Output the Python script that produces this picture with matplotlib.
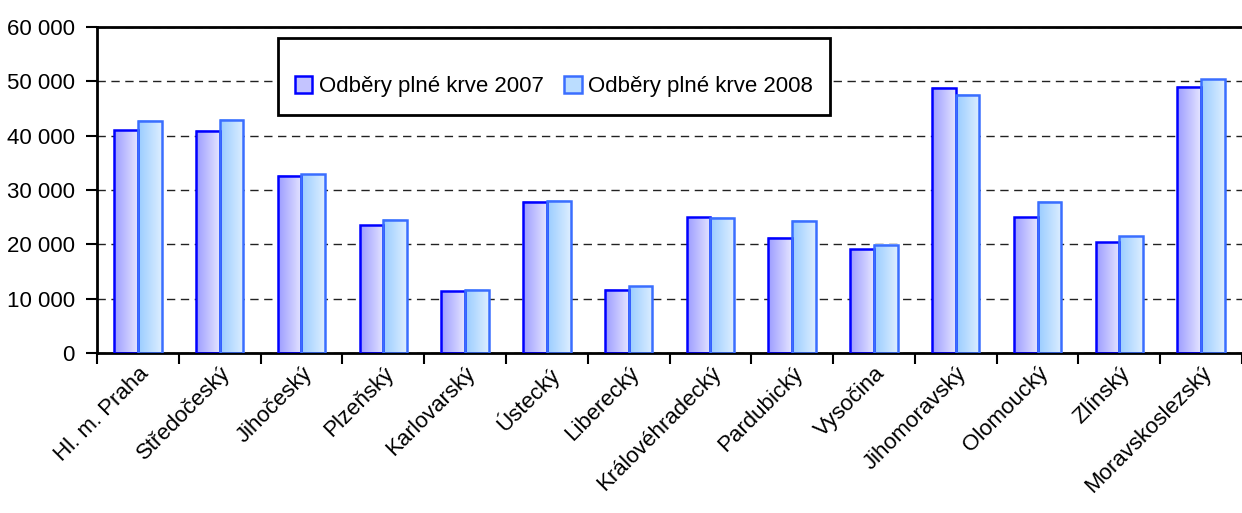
import numpy as np
import matplotlib
matplotlib.use("Agg")
import matplotlib.pyplot as plt
from matplotlib.colors import LinearSegmentedColormap
from matplotlib.patches import Rectangle, Patch

plt.rcParams["font.family"] = ["Liberation Sans", "DejaVu Sans"]

regions = ["Hl. m. Praha", "Středočeský", "Jihočeský", "Plzeňský", "Karlovarský",
           "Ústecký", "Liberecký", "Královéhradecký", "Pardubický", "Vysočina",
           "Jihomoravský", "Olomoucký", "Zlínský", "Moravskoslezský"]
odbery_2007 = [41000, 40900, 32600, 23500, 11400, 27800, 11600,
               25000, 21200, 19100, 48800, 25000, 20400, 49000]
odbery_2008 = [42700, 42900, 32900, 24500, 11600, 28000, 12300,
               24900, 24300, 19900, 47500, 27800, 21500, 50400]
yticks = [0, 10000, 20000, 30000, 40000, 50000, 60000]
labels = ["Odběry plné krve 2007", "Odběry plné krve 2008"]

cmap07 = LinearSegmentedColormap.from_list("c07", ["#9C9CFF", "#E4E4FF"])
cmap08 = LinearSegmentedColormap.from_list("c08", ["#99CCFF", "#DDEEFF"])
edge07 = "#0000FF"
edge08 = "#3A6EFF"
FS = 16

W, H = 1242, 513
fig = plt.figure(figsize=(W / 100, H / 100), dpi=100)
ax = fig.add_axes([97 / W, (H - 353) / H, (W - 97) / W, 326 / H])

x = np.arange(len(regions)) + 0.5
bw = 0.29
grad = np.linspace(0, 1, 64).reshape(1, -1)

for xi, v07, v08 in zip(x, odbery_2007, odbery_2008):
    for left, val, cm, ec in [(xi - bw, v07, cmap07, edge07), (xi, v08, cmap08, edge08)]:
        ax.imshow(grad, cmap=cm, extent=[left, left + bw, 0, val],
                  aspect="auto", zorder=2, interpolation="bilinear")
        ax.add_patch(Rectangle((left, 0), bw, val, fill=False, edgecolor=ec,
                               linewidth=1.8, zorder=3))

ax.set_xlim(0, len(regions))
ax.set_ylim(0, 60000)

ax.set_yticks(yticks)
ax.set_yticklabels([f"{t:,}".replace(",", " ") for t in yticks], fontsize=FS)
ax.set_xticks(np.arange(len(regions) + 1))
ax.set_xticklabels([])
ax.set_xticks(x, minor=True)
ax.set_xticklabels(regions, minor=True, rotation=45, ha="right",
                   rotation_mode="anchor", fontsize=FS)
ax.tick_params(axis="x", which="minor", length=0, pad=7)
ax.tick_params(axis="both", which="major", direction="out", length=8, width=1.5,
               color="black")
ax.tick_params(axis="y", pad=8)

ax.yaxis.grid(True, linestyle=(0, (6, 4)), color="#222222", linewidth=1.0, zorder=0)
ax.set_axisbelow(True)

for s in ["left", "bottom", "top"]:
    ax.spines[s].set_linewidth(2)
    ax.spines[s].set_color("black")
ax.spines["right"].set_visible(False)

# legend box
ax.add_patch(Rectangle((0.158, 0.730), 0.482, 0.236, transform=ax.transAxes,
                       facecolor="white", edgecolor="black", linewidth=2, zorder=5))
handles = [Patch(facecolor="#C4C4FF", edgecolor=edge07, linewidth=1.8),
           Patch(facecolor="#BBDDFF", edgecolor=edge08, linewidth=1.8)]
leg = ax.legend(handles, labels, loc="center", bbox_to_anchor=(0.158, 0.70, 0.482, 0.236),
                ncol=2, frameon=False, fontsize=FS, handlelength=0.8, handleheight=0.8,
                handletextpad=0.3, columnspacing=0.9)
leg.set_zorder(6)

fig.savefig("out.png", dpi=100)
